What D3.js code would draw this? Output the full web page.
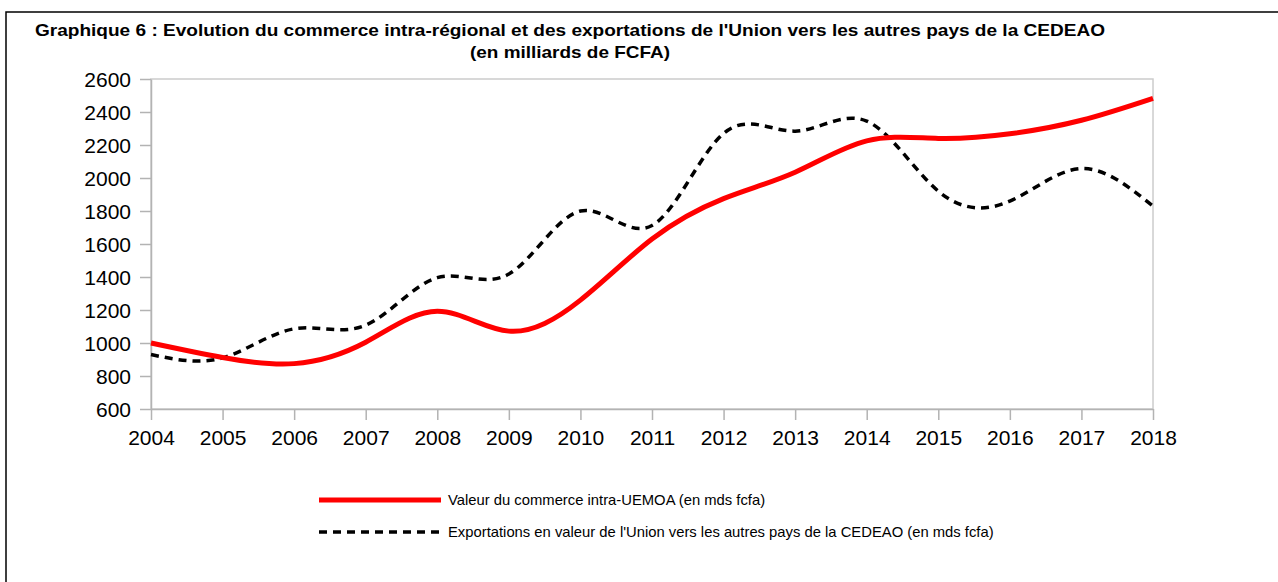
<!DOCTYPE html>
<meta charset="utf-8">
<head>
	<title>Graphique 6</title>
</head>

<style>
	body { margin: 0; background: #fff; }
	svg { display: block; font-family: "Liberation Sans", Arial, sans-serif; }
	.axis text { font-size: 21px; fill: #000; }
	.axis path, .axis line { stroke: #b3b3b3; stroke-width: 1.5px; }
	.legend text { font-size: 14.8px; fill: #000; }
	.title { font-size: 17px; font-weight: bold; }
</style>

<body>

<div id="wrapper"></div>

<script src="https://d3js.org/d3.v7.min.js"></script>
<script>

// chart values
var years = [2004, 2005, 2006, 2007, 2008, 2009, 2010, 2011, 2012, 2013, 2014, 2015, 2016, 2017, 2018];
var commerceUEMOA = [1000, 912, 875, 1005, 1192, 1072, 1260, 1630, 1875, 2035, 2225, 2240, 2268, 2350, 2483];
var exportsCEDEAO = [930, 910, 1086, 1108, 1396, 1418, 1800, 1712, 2270, 2284, 2345, 1920, 1860, 2057, 1829];
var yTicks = [600, 800, 1000, 1200, 1400, 1600, 1800, 2000, 2200, 2400, 2600];

var seriesNames = [
	"Valeur du commerce intra-UEMOA (en mds fcfa)",
	"Exportations en valeur de l'Union vers les autres pays de la CEDEAO (en mds fcfa)"
];

var width = 1278, height = 582;
var plot = {left: 151, right: 1153, top: 79, bottom: 409};

var svg = d3.select("#wrapper").append("svg")
	.attr("width", width)
	.attr("height", height);

// outer frame (only top and left visible)
svg.append("path")
	.attr("d", "M6,582 V12 H1278")
	.attr("fill", "none")
	.attr("stroke", "#000")
	.attr("stroke-width", 1.5);

// title
svg.append("text").attr("class", "title")
	.attr("x", 35).attr("y", 36)
	.attr("textLength", 1070).attr("lengthAdjust", "spacingAndGlyphs")
	.text("Graphique 6 : Evolution du commerce intra-régional et des exportations de l'Union vers les autres pays de la CEDEAO");
svg.append("text").attr("class", "title")
	.attr("x", 470).attr("y", 58)
	.attr("textLength", 200).attr("lengthAdjust", "spacingAndGlyphs")
	.text("(en milliards de FCFA)");

var x = d3.scaleLinear().domain([2004, 2018]).range([plot.left, plot.right]);
var y = d3.scaleLinear().domain([600, 2600]).range([plot.bottom, plot.top]);

// plot border
svg.append("rect")
	.attr("x", plot.left).attr("y", plot.top)
	.attr("width", plot.right - plot.left).attr("height", plot.bottom - plot.top)
	.attr("fill", "none").attr("stroke", "#cccccc").attr("stroke-width", 1.5);

var xAxis = svg.append("g").attr("class", "axis")
	.attr("transform", "translate(0," + plot.bottom + ")")
	.call(d3.axisBottom(x).tickValues(years).tickFormat(d3.format("d")).tickSize(11).tickSizeOuter(0).tickPadding(10));

var yAxis = svg.append("g").attr("class", "axis")
	.attr("transform", "translate(" + plot.left + ",0)")
	.call(d3.axisLeft(y).tickValues(yTicks).tickFormat(d3.format("d")).tickSize(11).tickSizeOuter(0).tickPadding(9));
yAxis.selectAll("text").attr("dy", "0.36em");

var line = d3.line()
	.x(function(d, i) { return x(years[i]); })
	.y(function(d) { return y(d); })
	.curve(d3.curveNatural);

svg.append("path")
	.datum(exportsCEDEAO)
	.attr("d", line)
	.attr("fill", "none")
	.attr("stroke", "#000")
	.attr("stroke-width", 3.5)
	.attr("stroke-dasharray", "8,6");

svg.append("path")
	.datum(commerceUEMOA)
	.attr("d", line)
	.attr("fill", "none")
	.attr("stroke", "#ff0000")
	.attr("stroke-width", 5);

// legend
var legend = svg.append("g").attr("class", "legend");
var legendRows = [
	{name: seriesNames[0], color: "#ff0000", w: 5, dash: null, y: 500},
	{name: seriesNames[1], color: "#000", w: 3.5, dash: "8,6", y: 532}
];
legendRows.forEach(function(r) {
	legend.append("line")
		.attr("x1", 319).attr("x2", 441)
		.attr("y1", r.y).attr("y2", r.y)
		.attr("stroke", r.color)
		.attr("stroke-width", r.w)
		.attr("stroke-dasharray", r.dash);
	legend.append("text")
		.attr("x", 448).attr("y", r.y + 5)
		.text(r.name);
});

</script>
</body>
</html>
